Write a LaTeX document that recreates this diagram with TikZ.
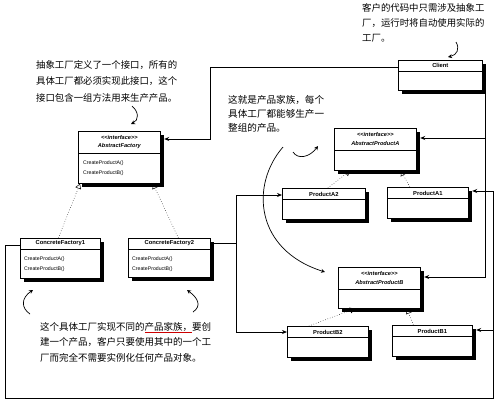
\documentclass[tikz,border=0pt]{standalone}
\usepackage{fontspec}
\setmainfont{Liberation Sans}
\newfontfamily\cjk{Noto Sans CJK SC}
\usetikzlibrary{arrows.meta}
\newcommand\ltlt{<\kern0pt<}
\newcommand\gtgt{>\kern0pt>}
\newcommand\boxshade[1]{%
  \path[fill=black] (#1.north east) ++(0,3.5) rectangle ++(3.5,0) |- ($(#1.south west)+(3.5,3.5)$) |- cycle;}
\tikzset{
 uml/.style={draw, line width=0.7pt, fill=white, inner sep=0, anchor=north west},
 sep/.style={line width=0.5pt},
 ttl/.style={font=\fontsize{5.8}{6}\selectfont\bfseries, inner sep=0},
 ittl/.style={font=\fontsize{5.6}{8.5}\selectfont\bfseries\itshape, inner sep=0, align=center},
 meth/.style={font=\fontsize{5.2}{6}\selectfont, inner sep=0, anchor=west},
 conn/.style={line width=0.8pt, -{Stealth[length=5pt,width=4pt]}},
 plainline/.style={line width=0.8pt},
 inh/.style={dotted, line width=0.5pt, -{Triangle[open, length=5pt, width=6pt]}},
 note/.style={inner sep=0, anchor=north west, align=left},
 hand/.style={line width=0.7pt, -{Stealth[length=4pt,width=4pt]}},
 shade/.style={fill=black},
}
\begin{document}
\begin{tikzpicture}[x=1pt,y=-1pt]
\fill[white] (0,0) rectangle (499,405);
\useasboundingbox (0,0) rectangle (499,405);

% ---- shadows (drawn first, offset 3.5 right and down) ----
\fill[shade] (401.5,63.5) rectangle (485.5,93.5);
\fill[shade] (81.5,134.5) rectangle (163.5,186.5);
\fill[shade] (23.5,241.5) rectangle (103.5,281.5);
\fill[shade] (131.5,241.5) rectangle (213.5,280.5);
\fill[shade] (337.5,131.5) rectangle (419.5,173.5);
\fill[shade] (285.5,191.5) rectangle (368.5,222.5);
\fill[shade] (390.5,190.5) rectangle (471.5,221.5);
\fill[shade] (341.5,270.5) rectangle (423.5,311.5);
\fill[shade] (290.5,329.5) rectangle (371.5,360.5);
\fill[shade] (395.5,328.5) rectangle (475.5,359.5);

% ---- boxes ----
\node[uml, minimum width=84pt, minimum height=30pt] (cl) at (398,60) {};
\draw[sep] (cl.west |- 0,71) -- (cl.east |- 0,71);
\node[ttl] (clt) at (cl.north |- 0,65.5) {Client};

\node[uml, minimum width=82pt, minimum height=52pt] (af) at (78,131) {};
\draw[sep] (af.west |- 0,153) -- (af.east |- 0,153);
\node[ittl] (aft) at (af.north |- 0,142) {\ltlt interface\gtgt\\AbstractFactory};
\node[meth] (afm1) at ([xshift=5pt]af.west |- 0,163) {CreateProductA()};
\node[meth] (afm2) at ([xshift=5pt]af.west |- 0,173) {CreateProductB()};

\node[uml, minimum width=80pt, minimum height=40pt] (cf1) at (20,238) {};
\draw[sep] (cf1.west |- 0,249) -- (cf1.east |- 0,249);
\node[ttl] (cf1t) at (cf1.north |- 0,243.5) {ConcreteFactory1};
\node[meth] (cf1m1) at ([xshift=4pt]cf1.west |- 0,259) {CreateProductA()};
\node[meth] (cf1m2) at ([xshift=4pt]cf1.west |- 0,269) {CreateProductB()};

\node[uml, minimum width=82pt, minimum height=39pt] (cf2) at (128,238) {};
\draw[sep] (cf2.west |- 0,249) -- (cf2.east |- 0,249);
\node[ttl] (cf2t) at (cf2.north |- 0,243.5) {ConcreteFactory2};
\node[meth] (cf2m1) at ([xshift=4pt]cf2.west |- 0,259) {CreateProductA()};
\node[meth] (cf2m2) at ([xshift=4pt]cf2.west |- 0,269) {CreateProductB()};

\node[uml, minimum width=82pt, minimum height=42pt] (apa) at (334,128) {};
\draw[sep] (apa.west |- 0,150) -- (apa.east |- 0,150);
\node[ittl] (apat) at (apa.north |- 0,139) {\ltlt interface\gtgt\\AbstractProductA};

\node[uml, minimum width=83pt, minimum height=31pt] (pa2) at (282,188) {};
\draw[sep] (pa2.west |- 0,199) -- (pa2.east |- 0,199);
\node[ttl] (pa2t) at (pa2.north |- 0,194) {ProductA2};

\node[uml, minimum width=81pt, minimum height=31pt] (pa1) at (387,187) {};
\draw[sep] (pa1.west |- 0,198) -- (pa1.east |- 0,198);
\node[ttl] (pa1t) at (pa1.north |- 0,193) {ProductA1};

\node[uml, minimum width=82pt, minimum height=41pt] (apb) at (338,267) {};
\draw[sep] (apb.west |- 0,289) -- (apb.east |- 0,289);
\node[ittl] (apbt) at (apb.north |- 0,278) {\ltlt interface\gtgt\\AbstractProductB};

\node[uml, minimum width=81pt, minimum height=31pt] (pb2) at (287,326) {};
\draw[sep] (pb2.west |- 0,337) -- (pb2.east |- 0,337);
\node[ttl] (pb2t) at (pb2.north |- 0,332) {ProductB2};

\node[uml, minimum width=80pt, minimum height=31pt] (pb1) at (392,325) {};
\draw[sep] (pb1.west |- 0,336) -- (pb1.east |- 0,336);
\node[ttl] (pb1t) at (pb1.north |- 0,331) {ProductB1};

% ---- inheritance ----
\draw[inh] ([xshift=-2pt]cf1.north) -- (af.south -| 80,0);
\draw[inh] ([xshift=9pt]cf2.north) -- (af.south -| 153,0);
\draw[inh] ([xshift=4pt]pa2.north) -- (apa.south -| 350,0);
\draw[inh] ([xshift=-18pt]pa1.north) -- (apa.south -| 401,0);
\draw[inh] ([xshift=-19pt]pb2.north) -- (apb.south -| 355,0);
\draw[inh] ([xshift=-19pt]pb1.north) -- (apb.south -| 407,0);

% ---- associations ----
\draw[conn] (cl.west |- 0,67) -| (210,139) -- ([xshift=3.5pt]af.east |- 0,139);
\coordinate (cr) at ([xshift=3pt,yshift=-3.5pt]cl.south east);
\draw[conn] (cr) |- ([xshift=3.5pt]apb.east |- 0,277);
\draw[conn] (cr |- 0,138) -- ([xshift=3.5pt]apa.east |- 0,138);

\coordinate (v2) at (236,243);
\draw[plainline] ([xshift=3.5pt]cf2.east |- v2) -- (v2);
\draw[conn] (v2) |- (pa2.west |- 0,195);
\draw[conn] (v2) |- (pb2.west |- 0,332);

\draw[conn] (cf1.west |- 0,245) -| (5,398) -| (493,191) -- ([xshift=3.5pt]pa1.east |- 0,191);
\draw[conn] (493,330) -- ([xshift=3.5pt]pb1.east |- 0,330);

% ---- notes ----
\node[note, font=\cjk\fontsize{9.4}{16.5}\selectfont] (n1) at (36,60)
 {抽象工厂定义了一个接口，所有的\\具体工厂都必须实现此接口，这个\\接口包含一组方法用来生产产品。};
\node[note, font=\cjk\fontsize{9.4}{15}\selectfont] (n2) at (362,3)
 {客户的代码中只需涉及抽象工\\厂，运行时将自动使用实际的\\工厂。};
\node[note, font=\cjk\fontsize{9.6}{14}\selectfont] (n3) at (228,95)
 {这就是产品家族，每个\\具体工厂都能够生产一\\整组的产品。};
\node[note, font=\cjk\fontsize{9.5}{15.5}\selectfont] (n4) at (40,322)
 {这个具体工厂实现不同的产品家族，要创\\建一个产品，客户只要使用其中的一个工\\厂而完全不需要实例化任何产品对象。};
\draw[red!80!black, line width=0.9pt] (145,332) -- (192,332);

% ---- hand-drawn arrows ----
\draw[hand] (132,106) .. controls (139,112) and (139,120) .. (131,124);
\draw[hand] (456,42) .. controls (460,49) and (457,55) .. (448,57);
\draw[hand] (293,152) .. controls (298,160) and (310,157) .. (318,146);
\draw[hand] (283,147) .. controls (250,185) and (255,250) .. (325,272);
\draw[hand] (30,314) .. controls (21,308) and (21,298) .. (33,290);
\draw[hand] (193,312) .. controls (202,306) and (198,298) .. (187,290);
\end{tikzpicture}
\end{document}
